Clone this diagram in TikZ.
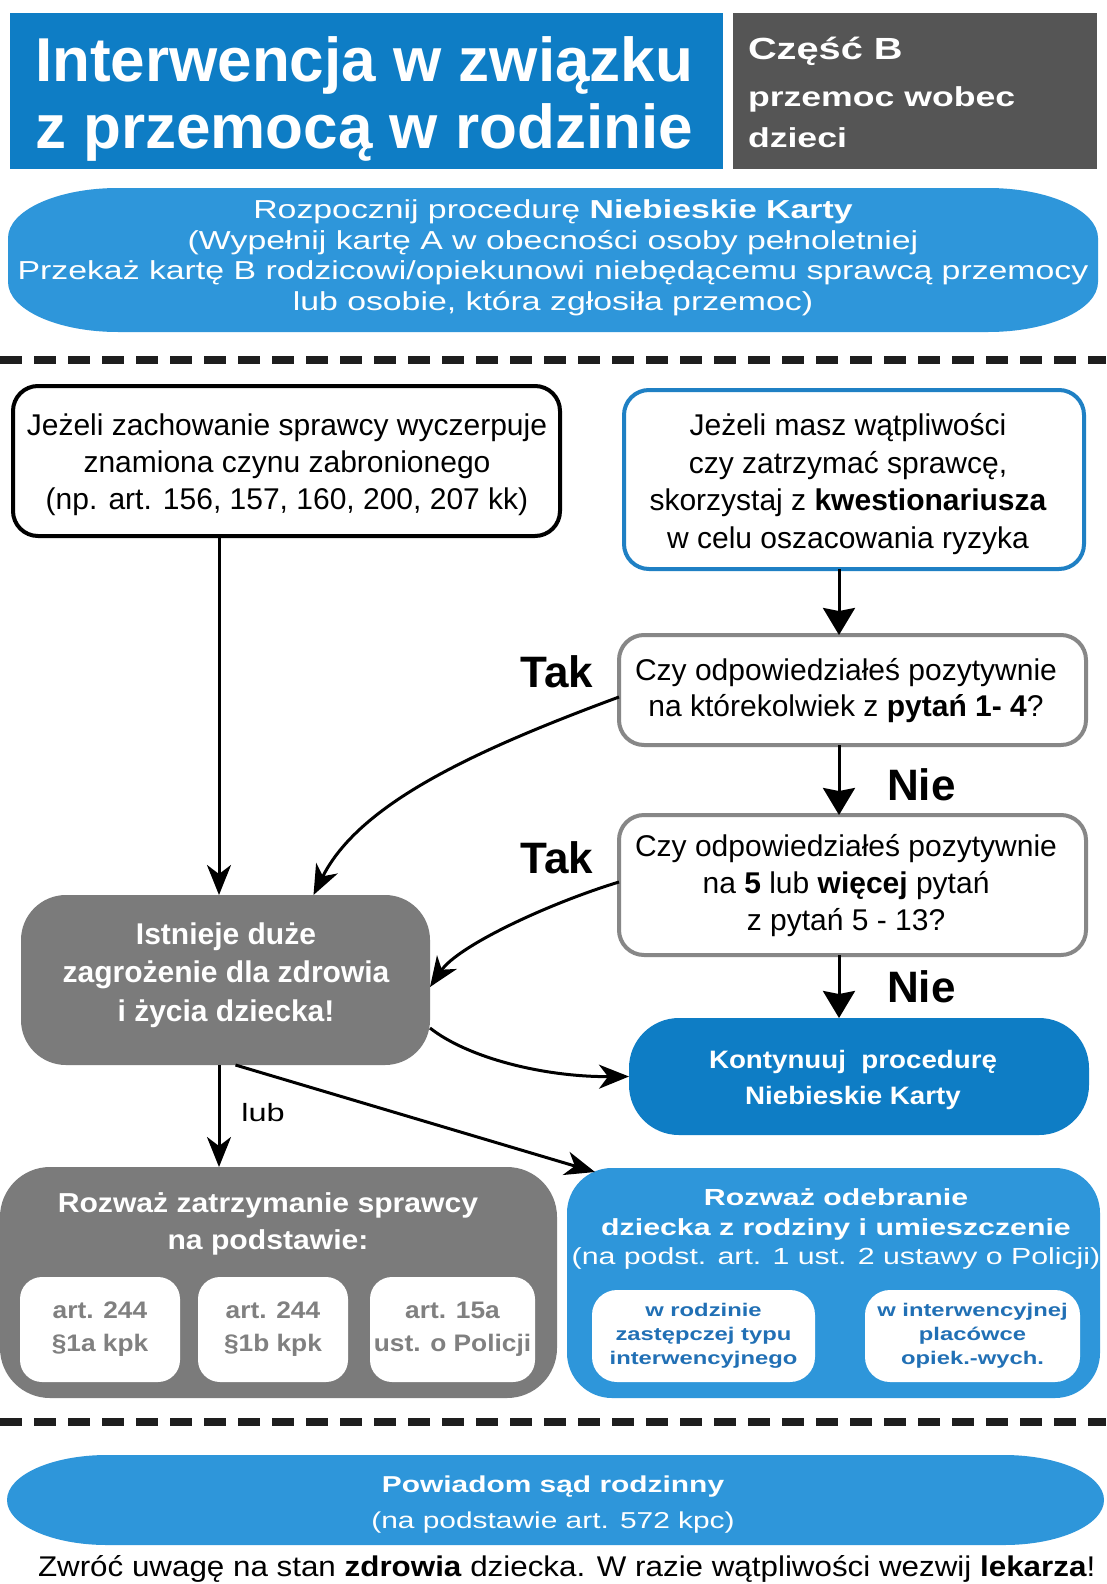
\documentclass[tikz,border=0pt]{standalone}
\usepackage{fontspec}
\setmainfont{Liberation Sans}
\newfontfamily\fN{Liberation Sans}
\newfontfamily\fM{Liberation Sans}[FakeStretch=1.1]
\newfontfamily\fW{Liberation Sans}[FakeStretch=1.3]
\usetikzlibrary{arrows.meta}
\definecolor{hblue}{RGB}{14,125,197}
\definecolor{lblue}{RGB}{46,150,218}
\definecolor{hgray}{RGB}{85,85,85}
\definecolor{mgray}{RGB}{123,123,123}
\definecolor{ogray}{RGB}{135,135,135}
\definecolor{oblue}{RGB}{31,128,196}
\definecolor{sgray}{RGB}{128,128,128}
\definecolor{sblue}{RGB}{33,112,181}
\definecolor{dashc}{RGB}{30,30,30}
\newcommand\fz[2]{\fontsize{#1pt}{#2pt}\selectfont}
\begin{document}
\begin{tikzpicture}[x=1pt,y=-1pt,
  every node/.style={inner sep=0pt, outer sep=0pt},
  rbox/.style={rectangle, rounded corners=#1, anchor=north west},
  conn/.style={line width=3pt, draw=black},
  tipA/.style={conn, -{Stealth[length=27pt,width=32pt,inset=3pt]}},
  tipB/.style={conn, -{Stealth[length=30pt,width=24pt,inset=9pt]}},
  wtext/.style={text=white, align=center},
  btext/.style={text=black, align=center},
  sepline/.style={line width=8pt, draw=dashc, dash pattern=on 22pt off 12pt}
]
\fill[white] (0,0) rectangle (1106,1584);
\useasboundingbox (0,0) rectangle (1106,1584);

% header
\node[rbox=0pt, fill=hblue, minimum width=713pt, minimum height=156pt] (hdr) at (10,13) {};
\node[rbox=0pt, fill=hgray, minimum width=364pt, minimum height=156pt] (hdr2) at (733,13) {};
\node[anchor=base west, text=white, font=\fN\bfseries\fz{62}{66}] (ttl1) at (35,82) {Interwencja w związku};
\node[anchor=base west, text=white, font=\fN\bfseries\fz{62}{66}] (ttl2) at (35,148) {z przemocą w rodzinie};
\node[anchor=base west, text=white, font=\fW\bfseries\fz{30.6}{36}] (cz) at (748,60) {Część B};
\node[anchor=base west, text=white, font=\fW\bfseries\fz{27.4}{32}] (pw) at (748,107) {przemoc wobec};
\node[anchor=base west, text=white, font=\fW\bfseries\fz{27.4}{32}] (dz) at (748,147) {dzieci};

% top oval
\fill[lblue] (8,238) .. controls (8,210.4) and (57.3,188) .. (118,188) -- (988,188) .. controls (1048.7,188) and (1098,210.4) .. (1098,238) -- (1098,282) .. controls (1098,309.6) and (1048.7,332) .. (988,332) -- (118,332) .. controls (57.3,332) and (8,309.6) .. (8,282) -- cycle;
\node[wtext, font=\fW\fz{26}{30.5}] (start) at (553,258) {Rozpocznij procedurę \textbf{Niebieskie Karty}\\(Wypełnij kartę A w obecności osoby pełnoletniej\\Przekaż kartę B rodzicowi/opiekunowi niebędącemu sprawcą przemocy\\lub osobie, która zgłosiła przemoc)};

\draw[sepline] (0,360) -- (1106,360);

% boxes
\node[rbox=25pt, draw=black, line width=4pt, fill=white, minimum width=547pt, minimum height=150pt] (b1) at (13,386) {};
\node[btext, font=\fN\fz{30}{37}] (b1t) at (287,465) {Jeżeli zachowanie sprawcy wyczerpuje\\znamiona czynu zabronionego\\(np. art. 156, 157, 160, 200, 207 kk)};

\node[rbox=25pt, draw=oblue, line width=4pt, fill=white, minimum width=460pt, minimum height=179pt] (b2) at (624,390) {};
\node[btext, font=\fN\fz{30}{37.5}] (b2t) at (848,484) {Jeżeli masz wątpliwości\\czy zatrzymać sprawcę,\\skorzystaj z \textbf{kwestionariusza}\\w celu oszacowania ryzyka};

\node[rbox=25pt, draw=ogray, line width=4pt, fill=white, minimum width=467pt, minimum height=110pt] (b3) at (619,635) {};
\node[btext, font=\fN\fz{30}{36}] (b3t) at (846,691) {Czy odpowiedziałeś pozytywnie\\na którekolwiek z \textbf{pytań 1- 4}?};

\node[rbox=25pt, draw=ogray, line width=4pt, fill=white, minimum width=467pt, minimum height=140pt] (b4) at (619,815) {};
\node[btext, font=\fN\fz{30}{37}] (b4t) at (846,886) {Czy odpowiedziałeś pozytywnie\\na \textbf{5} lub \textbf{więcej} pytań\\z pytań 5 - 13?};

\node[anchor=base east, font=\fN\bfseries\fz{44}{48}] (tak1) at (593,687) {Tak};
\node[anchor=base east, font=\fN\bfseries\fz{44}{48}] (tak2) at (593,873) {Tak};
\node[anchor=base west, font=\fN\bfseries\fz{44}{48}] (nie1) at (887,800) {Nie};
\node[anchor=base west, font=\fN\bfseries\fz{44}{48}] (nie2) at (887,1002) {Nie};

\node[rbox=45pt, fill=mgray, minimum width=409pt, minimum height=170pt] (ist) at (21,895) {};
\node[wtext, font=\fN\bfseries\fz{30}{38.5}] (istt) at (226,975) {Istnieje duże\\zagrożenie dla zdrowia\\i życia dziecka!};

\node[rbox=50pt, fill=hblue, minimum width=460pt, minimum height=117pt] (kont) at (629,1018) {};
\node[wtext, font=\fM\bfseries\fz{25.2}{36}] (kontt) at (853,1080) {Kontynuuj\ \ procedurę\\Niebieskie Karty};

\node[font=\fW\fz{25}{30}] (lub) at (263,1113) {lub};

% bottom boxes
\node[rbox=50pt, fill=mgray, minimum width=557pt, minimum height=231pt] (zat) at (0,1167) {};
\node[wtext, font=\fM\bfseries\fz{27.4}{37}] (zatt) at (268,1224) {Rozważ zatrzymanie sprawcy\\na podstawie:};
\node[rbox=22pt, fill=white, minimum width=160pt, minimum height=105pt] (z1) at (20,1277) {};
\node[rbox=22pt, fill=white, minimum width=150pt, minimum height=105pt] (z2) at (198,1277) {};
\node[rbox=22pt, fill=white, minimum width=165pt, minimum height=105pt] (z3) at (370,1277) {};
\node[align=center, text=sgray, font=\fM\bfseries\fz{23.9}{33}] (z1t) at (z1.center) {art. 244\\§1a kpk};
\node[align=center, text=sgray, font=\fM\bfseries\fz{23.9}{33}] (z2t) at (z2.center) {art. 244\\§1b kpk};
\node[align=center, text=sgray, font=\fM\bfseries\fz{23.9}{33}] (z3t) at (z3.center) {art. 15a\\ust. o Policji};

\node[rbox=45pt, fill=lblue, minimum width=533pt, minimum height=230pt] (odb) at (567,1168) {};
\node[wtext, font=\fW\fz{23.3}{29.5}] (odbt) at (836,1229) {\textbf{Rozważ odebranie}\\\textbf{dziecka z rodziny i umieszczenie}\\(na podst. art. 1 ust. 2 ustawy o Policji)};
\node[rbox=25pt, fill=white, minimum width=223pt, minimum height=92pt] (o1) at (592,1290) {};
\node[rbox=25pt, fill=white, minimum width=215pt, minimum height=92pt] (o2) at (865,1290) {};
\node[align=center, text=sblue, font=\fW\bfseries\fz{18.3}{24}] (o1t) at (o1.center) {w rodzinie\\zastępczej typu\\interwencyjnego};
\node[align=center, text=sblue, font=\fW\bfseries\fz{18.3}{24}] (o2t) at (o2.center) {w interwencyjnej\\placówce\\opiek.-wych.};

\draw[sepline] (0,1422) -- (1106,1422);

% bottom oval
\fill[lblue] (7,1500) .. controls (7,1475.2) and (51.8,1455) .. (107,1455) -- (1004,1455) .. controls (1059.2,1455) and (1104,1475.2) .. (1104,1500) .. controls (1104,1524.8) and (1059.2,1545) .. (1004,1545) -- (107,1545) .. controls (51.8,1545) and (7,1524.8) .. (7,1500) -- cycle;
\node[wtext, font=\fW\fz{23}{36}] (pow) at (553,1505) {\textbf{Powiadom sąd rodzinny}\\(na podstawie art. 572 kpc)};

\node[anchor=base west, font=\fM\fz{28.5}{32}] (fin) at (38,1576) {Zwróć uwagę na stan \textbf{zdrowia} dziecka. W razie wątpliwości wezwij \textbf{lekarza}!};

% connectors
\coordinate (ax) at (839,0);
\coordinate (lx) at (219,0);
\draw[tipA] (b2.south -| ax) -- (b3.north -| ax);
\draw[tipA] (b3.south -| ax) -- (b4.north -| ax);
\draw[tipA] (b4.south -| ax) -- (kont.north -| ax);
\draw[tipB] (b1.south -| lx) -- (ist.north -| lx);
\draw[tipB] (ist.south -| lx) -- (zat.north -| lx);
\draw[tipB] ([yshift=-7pt]b3.west) .. controls (473,751) and (359,804) .. ([xshift=88pt]ist.north);
\draw[tipB] ([yshift=3pt]b4.west) .. controls (547,904) and (458,946) .. ([yshift=-7pt]ist.east);
\draw[tipB] ([yshift=-48pt]ist.east) .. controls (468,1058) and (544,1077) .. (kont.west);
\draw[tipB] ([xshift=10pt]ist.south) -- ([xshift=28pt,yshift=-4pt]odb.north west);
\end{tikzpicture}
\end{document}
